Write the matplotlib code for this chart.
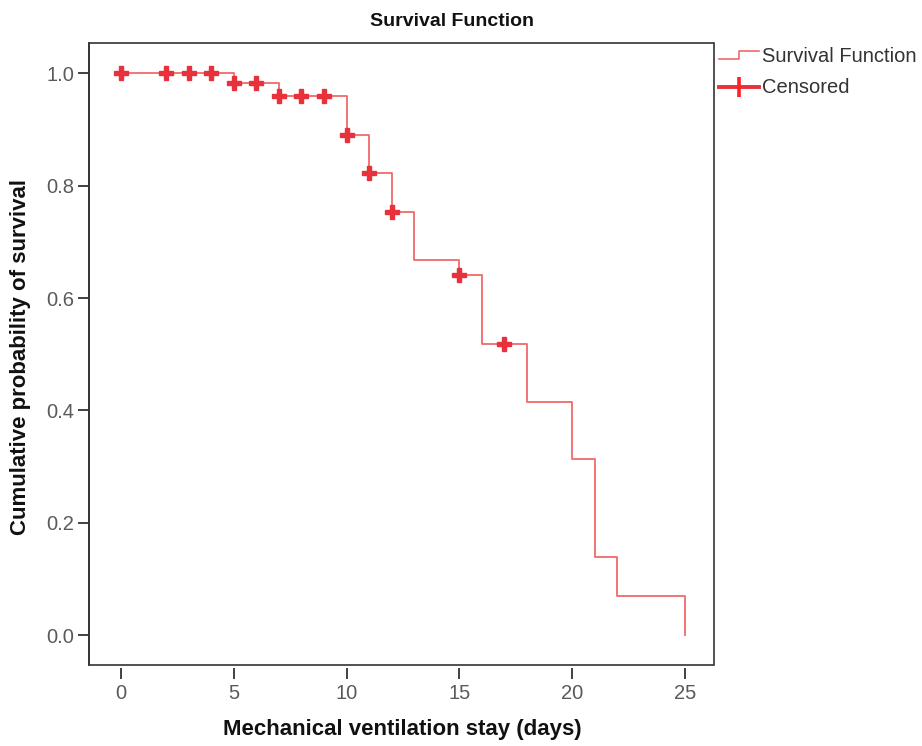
import matplotlib
matplotlib.use("Agg")
import matplotlib.pyplot as plt
from matplotlib.lines import Line2D
from matplotlib.legend_handler import HandlerBase
from matplotlib.patches import Rectangle

# ---- data ----
step_times = [0, 5, 7, 10, 11, 12, 13, 15, 16, 18, 20, 21, 22, 25]
step_surv = [1.0, 0.983, 0.960, 0.890, 0.822, 0.753, 0.668, 0.641, 0.518, 0.415, 0.313, 0.139, 0.069, 0.0]
cens_times = [0, 2, 3, 4, 5, 6, 7, 8, 9, 10, 11, 12, 15, 17]
cens_surv = [1.0, 1.0, 1.0, 1.0, 0.983, 0.983, 0.960, 0.960, 0.960, 0.890, 0.822, 0.753, 0.641, 0.518]
xticks = [0, 5, 10, 15, 20, 25]
yticks = [0.0, 0.2, 0.4, 0.6, 0.8, 1.0]

plt.rcParams['font.family'] = ['Liberation Sans', 'DejaVu Sans']

W, H = 922, 746
fig = plt.figure(figsize=(W / 100, H / 100), dpi=100)
L, R, T, B = 89, 714, 43, 665
ax = fig.add_axes([L / W, 1 - B / H, (R - L) / W, (B - T) / H])

line_col = '#f06a6a'
mark_col = '#e8313b'

ax.plot(step_times, step_surv, drawstyle='steps-post', color=line_col, lw=1.3,
        label='Survival Function', zorder=2)
ax.plot(cens_times, cens_surv, linestyle='none', marker='P', markersize=9.5,
        color=mark_col, markeredgecolor=mark_col, zorder=3)

ax.set_xlim(-1.418, 26.29)
ax.set_ylim(-0.053, 1.054)
ax.set_xticks(xticks)
ax.set_xticklabels([str(t) for t in xticks])
ax.set_yticks(yticks)
ax.set_yticklabels([f"{t:.1f}" for t in yticks])

# frame
for s in ['top', 'right', 'bottom']:
    ax.spines[s].set_visible(False)
ax.spines['left'].set_linewidth(1.2)
ax.spines['left'].set_color('#333333')
ax.add_patch(Rectangle((0, 0), 1, 1, transform=ax.transAxes, fill=False,
                       edgecolor='#333333', lw=1.2, clip_on=False, zorder=5))
# detached x ticks (SPSS style)
ax.spines['bottom'].set_visible(True)
ax.spines['bottom'].set_position(('outward', 2))
ax.spines['bottom'].set_color('none')
ax.tick_params(axis='x', direction='out', length=8, width=1.3, color='#333333',
               labelsize=14.5, labelcolor='#5a5a5a', pad=4)
ax.tick_params(axis='y', direction='out', length=8, width=1.3, color='#333333',
               labelsize=14.5, labelcolor='#5a5a5a', pad=2.5)

fig.text(452 / W, 1 - 22 / H, 'Survival Function', ha='center', va='center',
         fontsize=14, fontweight='bold', color='#111111')
fig.text(402 / W, 1 - 729 / H, 'Mechanical ventilation stay (days)', ha='center',
         va='center', fontsize=16, fontweight='bold', color='#111111')
fig.text(21 / W, 1 - 357 / H, 'Cumulative probability of survival', ha='center',
         va='center', rotation=90, fontsize=16, fontweight='bold', color='#111111')


class StepHandler(HandlerBase):
    def create_artists(self, legend, orig_handle, xdescent, ydescent, width,
                       height, fontsize, trans):
        x0 = -xdescent
        y0 = -ydescent
        xs = [x0, x0 + width * 0.5, x0 + width * 0.5, x0 + width]
        ys = [y0 + height * 0.2, y0 + height * 0.2, y0 + height * 0.75, y0 + height * 0.75]
        ln = Line2D(xs, ys, color=line_col, lw=1.2, transform=trans)
        return [ln]


class CensHandler(HandlerBase):
    def create_artists(self, legend, orig_handle, xdescent, ydescent, width,
                       height, fontsize, trans):
        x0 = -xdescent
        y0 = -ydescent
        ym = y0 + height * 0.4
        ln = Line2D([x0, x0 + width], [ym, ym], color=mark_col, lw=2.8,
                    transform=trans)
        mk = Line2D([x0 + width * 0.5], [ym], linestyle='none', marker='|',
                    markersize=15, markeredgewidth=2.6, color='#ff2020',
                    transform=trans)
        return [ln, mk]


surv_handle = Line2D([], [], color=line_col)
cens_handle = Line2D([], [], color=mark_col)
leg = fig.legend([surv_handle, cens_handle], ['Survival Function', 'Censored'],
                 handler_map={surv_handle: StepHandler(), cens_handle: CensHandler()},
                 loc='upper left', bbox_to_anchor=(719 / W, 1 - 47 / H),
                 frameon=False, fontsize=14.5, handlelength=2.0, handletextpad=0.15,
                 labelspacing=0.6, borderaxespad=0, borderpad=0)
for t in leg.get_texts():
    t.set_color('#333333')

fig.savefig('out.png', dpi=100)
